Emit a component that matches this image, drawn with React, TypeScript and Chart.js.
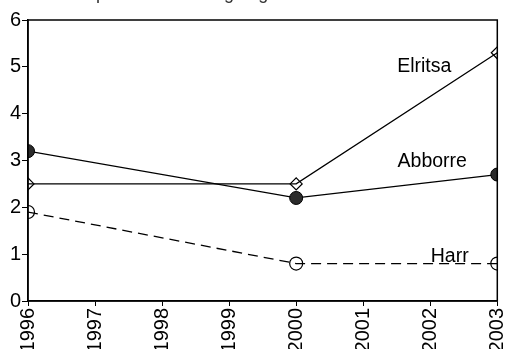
import React, { useEffect, useRef } from "react";
import { Chart, registerables } from "chart.js";

Chart.register(...registerables);

// Survey years and catch per unit effort for each species
const years = [1996, 2000, 2003];
const elritsa = [2.5, 2.5, 5.3];
const abborre = [3.2, 2.2, 2.7];
const harr = [1.9, 0.8, 0.8];

const yMin = 0;
const yMax = 6;
const xMin = 1996;
const xMax = 2003;

const titleText = "Antal per fiskeansträngning";

// Species names written next to their lines, anchored in data units
const speciesNames = ["Elritsa", "Abborre", "Harr"];
const nameYears = [2001.91, 2002.03, 2002.29];
const nameValues = [4.89, 2.86, 0.83];

const FONT = "'Liberation Sans', Arial, Helvetica, sans-serif";

const toPoints = (vals: number[]) => years.map((x, i) => ({ x, y: vals[i] }));

const decorations = {
  id: "decorations",
  afterDraw(chart: any) {
    const { ctx, chartArea, scales } = chart;
    ctx.save();
    // closed frame round the plot area
    ctx.strokeStyle = "#000";
    ctx.lineWidth = 1.5;
    ctx.strokeRect(
      chartArea.left,
      chartArea.top,
      chartArea.right - chartArea.left,
      chartArea.bottom - chartArea.top
    );
    // species names
    ctx.fillStyle = "#000";
    ctx.font = `19.5px ${FONT}`;
    ctx.textAlign = "center";
    ctx.textBaseline = "alphabetic";
    speciesNames.forEach((name, i) => {
      const px = scales.x.getPixelForValue(nameYears[i]);
      const py = scales.y.getPixelForValue(nameValues[i]);
      ctx.fillText(name, px, py);
    });
    // heading, mostly above the canvas edge
    ctx.fillStyle = "#333";
    ctx.font = `18px ${FONT}`;
    ctx.textAlign = "left";
    ctx.fillText(titleText, 50, -1);
    ctx.restore();
  },
};

export default function App() {
  const canvasRef = useRef<HTMLCanvasElement | null>(null);

  useEffect(() => {
    if (!canvasRef.current) return;
    const chart = new Chart(canvasRef.current, {
      type: "line",
      data: {
        datasets: [
          {
            label: "Elritsa",
            data: toPoints(elritsa),
            borderColor: "#000",
            borderWidth: 1.3,
            backgroundColor: "rgba(0,0,0,0)",
            pointStyle: "rectRot",
            pointRadius: 6,
            pointBorderWidth: 1.2,
            pointBorderColor: "#000",
            pointBackgroundColor: "rgba(0,0,0,0)",
            tension: 0,
          },
          {
            label: "Abborre",
            data: toPoints(abborre),
            borderColor: "#000",
            borderWidth: 1.3,
            backgroundColor: "#2b2b2b",
            pointStyle: "circle",
            pointRadius: 6.5,
            pointBorderWidth: 1,
            pointBorderColor: "#000",
            pointBackgroundColor: "#2b2b2b",
            tension: 0,
          },
          {
            label: "Harr",
            data: toPoints(harr),
            borderColor: "#000",
            borderWidth: 1.3,
            borderDash: [10, 6],
            backgroundColor: "rgba(0,0,0,0)",
            pointStyle: "circle",
            pointRadius: 6.5,
            pointBorderWidth: 1.2,
            pointBorderColor: "#000",
            pointBackgroundColor: "rgba(0,0,0,0)",
            tension: 0,
          },
        ],
      },
      options: {
        animation: false,
        responsive: false,
        maintainAspectRatio: false,
        layout: { padding: { top: 20, right: 3, bottom: 0, left: 0 } },
        plugins: {
          legend: { display: false },
          tooltip: { enabled: false },
          title: { display: false },
        },
        scales: {
          x: {
            type: "linear",
            min: xMin,
            max: xMax,
            grid: {
              display: true,
              drawOnChartArea: false,
              drawTicks: true,
              tickLength: 5,
              tickColor: "#000",
              tickWidth: 1,
            },
            border: { display: true, color: "#000", width: 1.5 },
            ticks: {
              stepSize: 1,
              autoSkip: false,
              minRotation: 90,
              maxRotation: 90,
              padding: 2,
              color: "#000",
              font: { family: FONT, size: 20 },
              callback: (v: any) => String(v),
            },
            afterFit: (scale: any) => {
              scale.height = 48;
              scale.paddingLeft = 0;
              scale.paddingRight = 0;
            },
          },
          y: {
            type: "linear",
            min: yMin,
            max: yMax,
            grid: {
              display: true,
              drawOnChartArea: false,
              drawTicks: true,
              tickLength: 6,
              tickColor: "#000",
              tickWidth: 1,
            },
            border: { display: true, color: "#000", width: 1.5 },
            ticks: {
              stepSize: 1,
              padding: 1,
              color: "#000",
              font: { family: FONT, size: 20 },
            },
            afterFit: (scale: any) => {
              scale.width = 28;
              scale.paddingTop = 0;
              scale.paddingBottom = 0;
            },
          },
        },
      },
      plugins: [decorations],
    });
    return () => chart.destroy();
  }, []);

  return (
    <div style={{ position: "absolute", left: 0, top: 0, width: 505, height: 349, background: "#fff" }}>
      <canvas ref={canvasRef} width={505} height={349} style={{ display: "block" }} />
    </div>
  );
}
